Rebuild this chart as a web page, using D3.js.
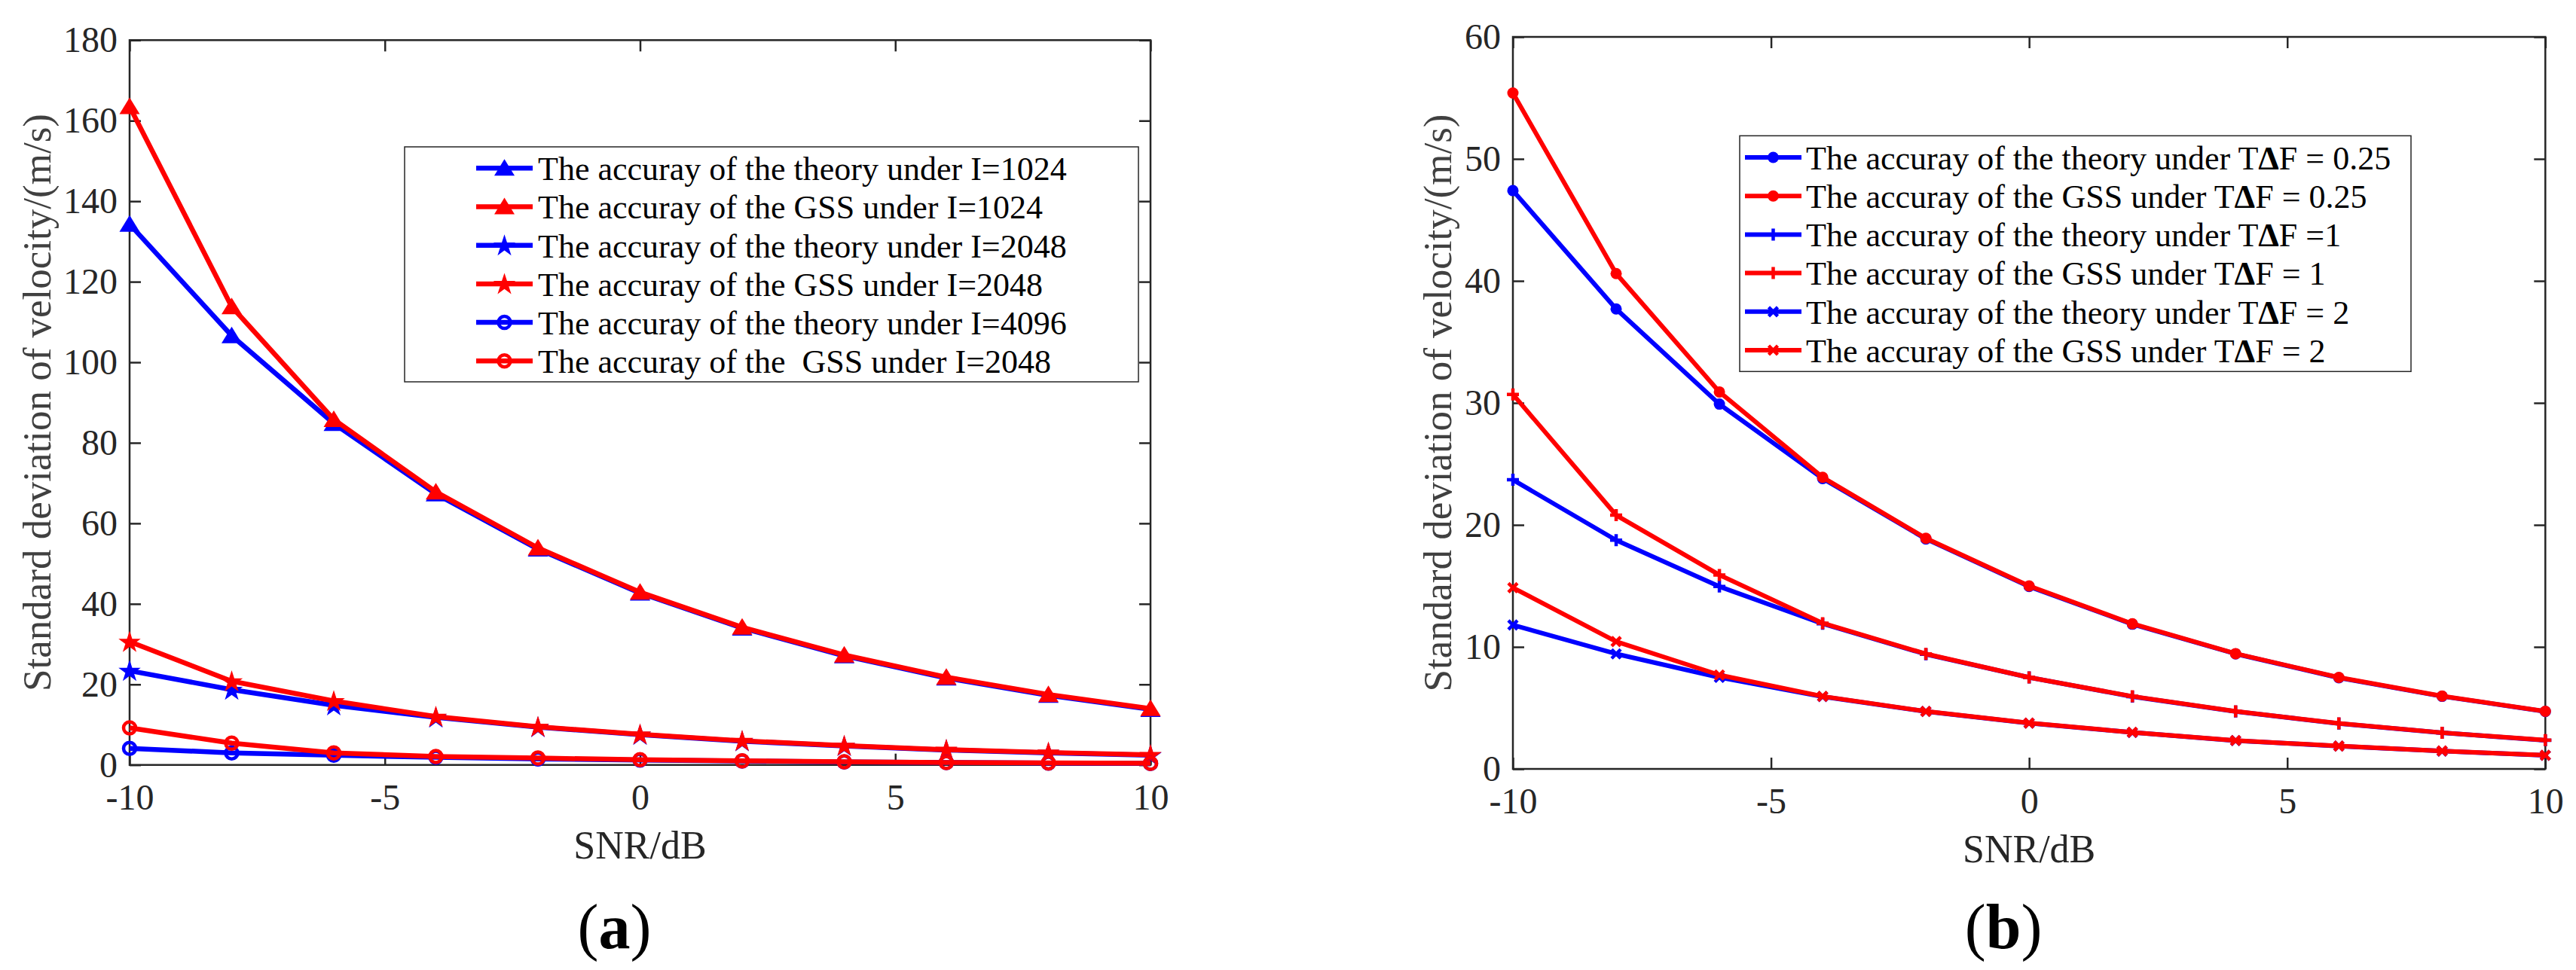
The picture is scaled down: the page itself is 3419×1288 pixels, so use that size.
<!DOCTYPE html>
<html>
<head>
<meta charset="utf-8">
<script src="https://cdn.jsdelivr.net/npm/d3@7"></script>
<style>
  body { margin: 0; background: #fff; }
  svg text { font-family: "Liberation Serif", "Times New Roman", serif; }
</style>
</head>
<body>
<svg id="fig" width="3419" height="1288"></svg>
<script>
// SNR values shared by both panels
var snr = [-10, -8, -6, -4, -2, 0, 2, 4, 6, 8, 10];
var xTicks = [-10, -5, 0, 5, 10];

// panel (a)
var aTheory1024 = [134.3, 106.6, 84.8, 67.3, 53.6, 42.7, 34.0, 27.1, 21.6, 17.3, 13.8];
var aGss1024    = [163.5, 113.8, 85.8, 67.8, 53.9, 42.9, 34.2, 27.3, 21.8, 17.5, 14.0];
var aTheory2048 = [23.4, 18.7, 14.8, 11.8, 9.4, 7.5, 5.9, 4.7, 3.7, 3.0, 2.4];
var aGss2048    = [30.6, 20.8, 15.9, 12.0, 9.5, 7.6, 6.0, 4.8, 3.8, 3.1, 2.5];
var aTheory4096 = [4.1, 3.0, 2.4, 1.9, 1.5, 1.2, 0.95, 0.75, 0.6, 0.48, 0.38];
var aGss4096    = [9.2, 5.4, 3.0, 2.1, 1.7, 1.3, 1.0, 0.8, 0.6, 0.5, 0.4];
var aYTicks = [0, 20, 40, 60, 80, 100, 120, 140, 160, 180];
var aLabels = [
  "The accuray of the theory under I=1024",
  "The accuray of the GSS under I=1024",
  "The accuray of the theory under I=2048",
  "The accuray of the GSS under I=2048",
  "The accuray of the theory under I=4096",
  "The accuray of the  GSS under I=2048"
];

// panel (b)
var bTheory025 = [47.4, 37.7, 29.9, 23.8, 18.85, 14.95, 11.86, 9.43, 7.47, 5.95, 4.71];
var bGss025    = [55.4, 40.6, 30.9, 23.9, 18.9, 15.0, 11.9, 9.45, 7.5, 5.97, 4.72];
var bTheory1   = [23.7, 18.75, 14.95, 11.9, 9.4, 7.5, 5.93, 4.71, 3.72, 2.96, 2.35];
var bGss1      = [30.7, 20.8, 15.9, 11.95, 9.43, 7.5, 5.95, 4.72, 3.73, 2.97, 2.36];
var bTheory2   = [11.8, 9.43, 7.5, 5.93, 4.71, 3.75, 2.99, 2.32, 1.87, 1.46, 1.11];
var bGss2      = [14.85, 10.44, 7.7, 5.95, 4.72, 3.76, 3.0, 2.33, 1.88, 1.47, 1.12];
var bYTicks = [0, 10, 20, 30, 40, 50, 60];
var bLabels = [
  ["The accuray of the theory under T", "F = 0.25"],
  ["The accuray of the GSS under T", "F = 0.25"],
  ["The accuray of the theory under T", "F =1"],
  ["The accuray of the GSS under T", "F = 1"],
  ["The accuray of the theory under T", "F = 2"],
  ["The accuray of the GSS under T", "F = 2"]
];

var BLUE = "#0000ff", RED = "#ff0000", INK = "#262626";
var svg = d3.select("#fig");
svg.append("rect").attr("width", 3419).attr("height", 1288).attr("fill", "#fff");

// marker shapes
function marker(g, type, color, x, y) {
  if (type === "tri") {
    g.append("path").attr("d", "M0,-12L13.5,10L-13.5,10Z")
      .attr("transform", "translate(" + x + "," + y + ")").attr("fill", color);
  } else if (type === "star") {
    g.append("path").attr("d", d3.symbol(d3.symbolStar, 270)())
      .attr("transform", "translate(" + x + "," + (y + 1) + ")").attr("fill", color);
  } else if (type === "ring") {
    g.append("circle").attr("cx", x).attr("cy", y).attr("r", 8)
      .attr("fill", "none").attr("stroke", color).attr("stroke-width", 4.5);
  } else if (type === "dot") {
    g.append("circle").attr("cx", x).attr("cy", y).attr("r", 7.5).attr("fill", color);
  } else if (type === "plus") {
    g.append("path").attr("d", "M" + (x - 8) + "," + y + "H" + (x + 8) + "M" + x + "," + (y - 8) + "V" + (y + 8))
      .attr("stroke", color).attr("stroke-width", 4.5);
  } else if (type === "cross") {
    g.append("path").attr("d", "M" + (x - 6) + "," + (y - 6) + "L" + (x + 6) + "," + (y + 6) +
      "M" + (x - 6) + "," + (y + 6) + "L" + (x + 6) + "," + (y - 6))
      .attr("stroke", color).attr("stroke-width", 4.5);
  }
}

function panel(p) {
  var x = d3.scaleLinear().domain([-10, 10]).range([p.left, p.right]);
  var y = d3.scaleLinear().domain([0, p.yMax]).range([p.bottom, p.top]);
  var g = svg.append("g");

  // frame and ticks (inward, all four sides)
  g.append("rect").attr("x", p.left).attr("y", p.top)
    .attr("width", p.right - p.left).attr("height", p.bottom - p.top)
    .attr("fill", "none").attr("stroke", INK).attr("stroke-width", 2.5);

  function styleAxis(sel) {
    sel.select(".domain").remove();
    sel.selectAll(".tick line").attr("stroke", INK).attr("stroke-width", 2.5);
    sel.attr("font-family", null).attr("font-size", 48);
    sel.selectAll(".tick text").attr("fill", INK);
  }
  var fmt = function (d) { return String(d); };
  g.append("g").attr("transform", "translate(0," + p.bottom + ")")
    .call(d3.axisBottom(x).tickValues(xTicks).tickFormat(fmt).tickSizeInner(-15).tickSizeOuter(0).tickPadding(25))
    .call(styleAxis);
  g.append("g").attr("transform", "translate(0," + p.top + ")")
    .call(d3.axisTop(x).tickValues(xTicks).tickFormat("").tickSizeInner(-15).tickSizeOuter(0))
    .call(styleAxis);
  g.append("g").attr("transform", "translate(" + p.left + ",0)")
    .call(d3.axisLeft(y).tickValues(p.yTicks).tickFormat(fmt).tickSizeInner(-15).tickSizeOuter(0).tickPadding(16))
    .call(styleAxis);
  g.append("g").attr("transform", "translate(" + p.right + ",0)")
    .call(d3.axisRight(y).tickValues(p.yTicks).tickFormat("").tickSizeInner(-15).tickSizeOuter(0))
    .call(styleAxis);

  // series: line then its markers, in plotting order
  var line = d3.line().x(function (d, i) { return x(snr[i]); }).y(function (d) { return y(d); });
  p.series.forEach(function (s) {
    var sg = g.append("g");
    sg.append("path").attr("d", line(s.values)).attr("fill", "none")
      .attr("stroke", s.color).attr("stroke-width", p.lw).attr("stroke-linejoin", "round");
    s.values.forEach(function (v, i) { marker(sg, s.marker, s.color, x(snr[i]), y(v)); });
  });

  // axis labels
  g.append("text").attr("x", (p.left + p.right) / 2).attr("y", p.bottom + 124)
    .attr("text-anchor", "middle").attr("font-size", 52).attr("fill", INK).text("SNR/dB");
  g.append("text").attr("transform", "translate(" + p.ylabX + "," + ((p.top + p.bottom) / 2) + ") rotate(-90)")
    .attr("text-anchor", "middle").attr("font-size", 53).attr("fill", "#404040")
    .text("Standard deviation of velocity/(m/s)");

  // caption
  var cap = g.append("text").attr("x", (p.left + p.right) / 2 - 34).attr("y", 1259)
    .attr("text-anchor", "middle").attr("font-size", 84).attr("fill", "#000");
  cap.append("tspan").text("(");
  cap.append("tspan").attr("font-weight", "bold").text(p.caption);
  cap.append("tspan").text(")");

  // legend
  var L = p.legend;
  g.append("rect").attr("x", L.x).attr("y", L.y).attr("width", L.w).attr("height", L.h)
    .attr("fill", "#fff").attr("stroke", INK).attr("stroke-width", 1.5);
  p.series.forEach(function (s, i) {
    var cy = L.row0 + i * L.dy;
    var lg = g.append("g");
    lg.append("line").attr("x1", L.lx0).attr("x2", L.lx1).attr("y1", cy).attr("y2", cy)
      .attr("stroke", s.color).attr("stroke-width", p.lw);
    marker(lg, s.marker, s.color, (L.lx0 + L.lx1) / 2, cy);
    var t = lg.append("text").attr("x", L.tx).attr("y", cy).attr("dy", "0.36em")
      .attr("font-size", 44).attr("fill", "#000").style("white-space", "pre");
    var lab = p.labels[i];
    if (typeof lab === "string") {
      t.text(lab);
    } else {
      t.append("tspan").text(lab[0]);
      t.append("tspan").attr("font-weight", "bold").text("\u0394");
      t.append("tspan").text(lab[1]);
    }
  });
}

panel({
  left: 172, right: 1527, top: 53.3, bottom: 1015.7, yMax: 180, yTicks: aYTicks,
  lw: 6.5, ylabX: 67, caption: "a", labels: aLabels,
  series: [
    { values: aTheory1024, color: BLUE, marker: "tri" },
    { values: aGss1024, color: RED, marker: "tri" },
    { values: aTheory2048, color: BLUE, marker: "star" },
    { values: aGss2048, color: RED, marker: "star" },
    { values: aTheory4096, color: BLUE, marker: "ring" },
    { values: aGss4096, color: RED, marker: "ring" }
  ],
  legend: { x: 537, y: 195, w: 974, h: 312, row0: 223.3, dy: 51.2, lx0: 632, lx1: 707, tx: 714 }
});

panel({
  left: 2008, right: 3378.3, top: 49, bottom: 1021, yMax: 60, yTicks: bYTicks,
  lw: 6, ylabX: 1926, caption: "b", labels: bLabels,
  series: [
    { values: bTheory025, color: BLUE, marker: "dot" },
    { values: bGss025, color: RED, marker: "dot" },
    { values: bTheory1, color: BLUE, marker: "plus" },
    { values: bGss1, color: RED, marker: "plus" },
    { values: bTheory2, color: BLUE, marker: "cross" },
    { values: bGss2, color: RED, marker: "cross" }
  ],
  legend: { x: 2309, y: 180.3, w: 891, h: 313, row0: 209, dy: 51.2, lx0: 2316, lx1: 2391, tx: 2397 }
});
</script>
</body>
</html>
